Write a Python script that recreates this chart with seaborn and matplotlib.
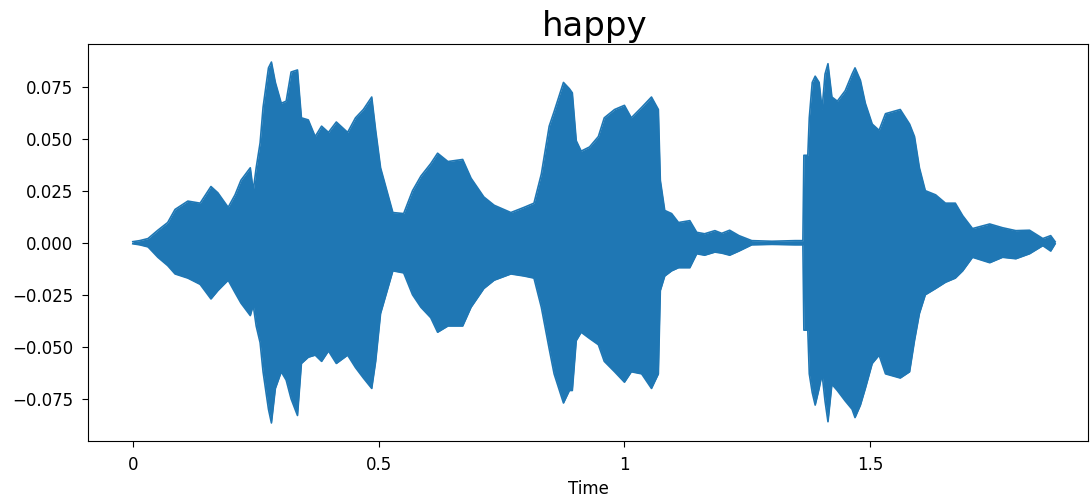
import numpy as np
import pandas as pd
import seaborn as sns
import matplotlib
matplotlib.use("Agg")
import matplotlib.pyplot as plt

# envelope of the "happy" waveform (seconds, amplitude)
times = [0.000, 0.014, 0.031, 0.051, 0.071, 0.086, 0.112, 0.137, 0.159, 0.173,
         0.194, 0.208, 0.220, 0.239, 0.245, 0.251, 0.259, 0.265, 0.276, 0.282,
         0.290, 0.302, 0.312, 0.322, 0.335, 0.343, 0.357, 0.371, 0.384, 0.398,
         0.414, 0.437, 0.453, 0.469, 0.486, 0.494, 0.504, 0.529, 0.551, 0.569,
         0.586, 0.606, 0.620, 0.641, 0.671, 0.688, 0.714, 0.735, 0.769, 0.796,
         0.816, 0.831, 0.847, 0.857, 0.876, 0.888, 0.894, 0.902, 0.912, 0.929,
         0.947, 0.959, 0.980, 1.000, 1.014, 1.035, 1.055, 1.069, 1.073, 1.082,
         1.096, 1.110, 1.133, 1.147, 1.163, 1.184, 1.198, 1.214, 1.233, 1.259,
         1.300, 1.347, 1.363, 1.365, 1.373, 1.376, 1.382, 1.388, 1.396, 1.402,
         1.408, 1.414, 1.422, 1.433, 1.449, 1.463, 1.469, 1.480, 1.490, 1.504,
         1.518, 1.531, 1.561, 1.580, 1.590, 1.600, 1.612, 1.633, 1.653, 1.673,
         1.688, 1.708, 1.743, 1.769, 1.796, 1.824, 1.851, 1.867, 1.876]

upper = [0.0005, 0.001, 0.002, 0.006, 0.0097, 0.016, 0.020, 0.019, 0.027, 0.024,
         0.017, 0.023, 0.030, 0.036, 0.025, 0.036, 0.048, 0.065, 0.084, 0.0868,
         0.077, 0.067, 0.068, 0.082, 0.083, 0.060, 0.059, 0.051, 0.056, 0.053,
         0.058, 0.053, 0.060, 0.064, 0.070, 0.054, 0.036, 0.0145, 0.014, 0.025,
         0.032, 0.038, 0.043, 0.039, 0.040, 0.031, 0.022, 0.018, 0.0145, 0.017,
         0.019, 0.033, 0.056, 0.063, 0.077, 0.074, 0.072, 0.049, 0.044, 0.046,
         0.051, 0.060, 0.064, 0.066, 0.060, 0.065, 0.070, 0.064, 0.030, 0.0155,
         0.014, 0.0097, 0.0106, 0.005, 0.0043, 0.0058, 0.0045, 0.006, 0.0034, 0.001,
         0.0007, 0.001, 0.001, 0.042, 0.042, 0.060, 0.077, 0.080, 0.077, 0.064,
         0.081, 0.086, 0.070, 0.068, 0.073, 0.081, 0.084, 0.078, 0.067, 0.057,
         0.054, 0.062, 0.064, 0.057, 0.051, 0.036, 0.025, 0.023, 0.019, 0.019,
         0.013, 0.0068, 0.009, 0.0072, 0.0058, 0.006, 0.002, 0.0034, 0.0005]

lower = [-0.0005, -0.001, -0.002, -0.007, -0.011, -0.015, -0.017, -0.020, -0.027, -0.023,
         -0.018, -0.024, -0.029, -0.035, -0.030, -0.040, -0.048, -0.062, -0.080, -0.0866,
         -0.070, -0.062, -0.066, -0.075, -0.083, -0.058, -0.055, -0.054, -0.057, -0.052,
         -0.058, -0.054, -0.060, -0.065, -0.070, -0.057, -0.034, -0.0135, -0.0145, -0.025,
         -0.031, -0.036, -0.043, -0.040, -0.040, -0.031, -0.022, -0.018, -0.015, -0.016,
         -0.017, -0.031, -0.051, -0.063, -0.077, -0.071, -0.071, -0.047, -0.043, -0.046,
         -0.049, -0.057, -0.062, -0.067, -0.062, -0.063, -0.070, -0.063, -0.023, -0.016,
         -0.0135, -0.012, -0.012, -0.0053, -0.006, -0.0045, -0.005, -0.006, -0.004, -0.001,
         -0.0008, -0.001, -0.001, -0.042, -0.042, -0.063, -0.072, -0.078, -0.070, -0.063,
         -0.076, -0.086, -0.068, -0.071, -0.076, -0.080, -0.084, -0.078, -0.070, -0.058,
         -0.054, -0.063, -0.065, -0.062, -0.047, -0.034, -0.025, -0.022, -0.019, -0.017,
         -0.0135, -0.007, -0.0096, -0.007, -0.0077, -0.0053, -0.0014, -0.004, -0.0005]

xtick_vals = [0, 0.5, 1, 1.5]
xtick_labels = ["0", "0.5", "1", "1.5"]

wave = pd.DataFrame({"time": times, "upper": upper, "lower": lower})
blue = "#1f77b4"

fig, ax = plt.subplots(figsize=(10.91, 4.99), dpi=100)
fig.subplots_adjust(left=0.0807, right=0.9973, top=0.9118, bottom=0.1162)

ax.fill_between(wave["time"], wave["lower"], wave["upper"], color=blue, linewidth=0)
sns.lineplot(data=wave, x="time", y="upper", color=blue, linewidth=1.2, ax=ax)
sns.lineplot(data=wave, x="time", y="lower", color=blue, linewidth=1.2, ax=ax)

ax.set_xlim(-0.091, 1.943)
ax.margins(y=0.05)
ax.set_xticks(xtick_vals)
ax.set_xticklabels(xtick_labels)
ax.tick_params(labelsize=12, length=4.3, pad=6.5)
ax.set_xlabel("Time", fontsize=12, labelpad=4)
ax.set_ylabel("")
ax.set_title("happy", fontsize=24.5, x=0.507)

fig.savefig("out.png", dpi=100)
